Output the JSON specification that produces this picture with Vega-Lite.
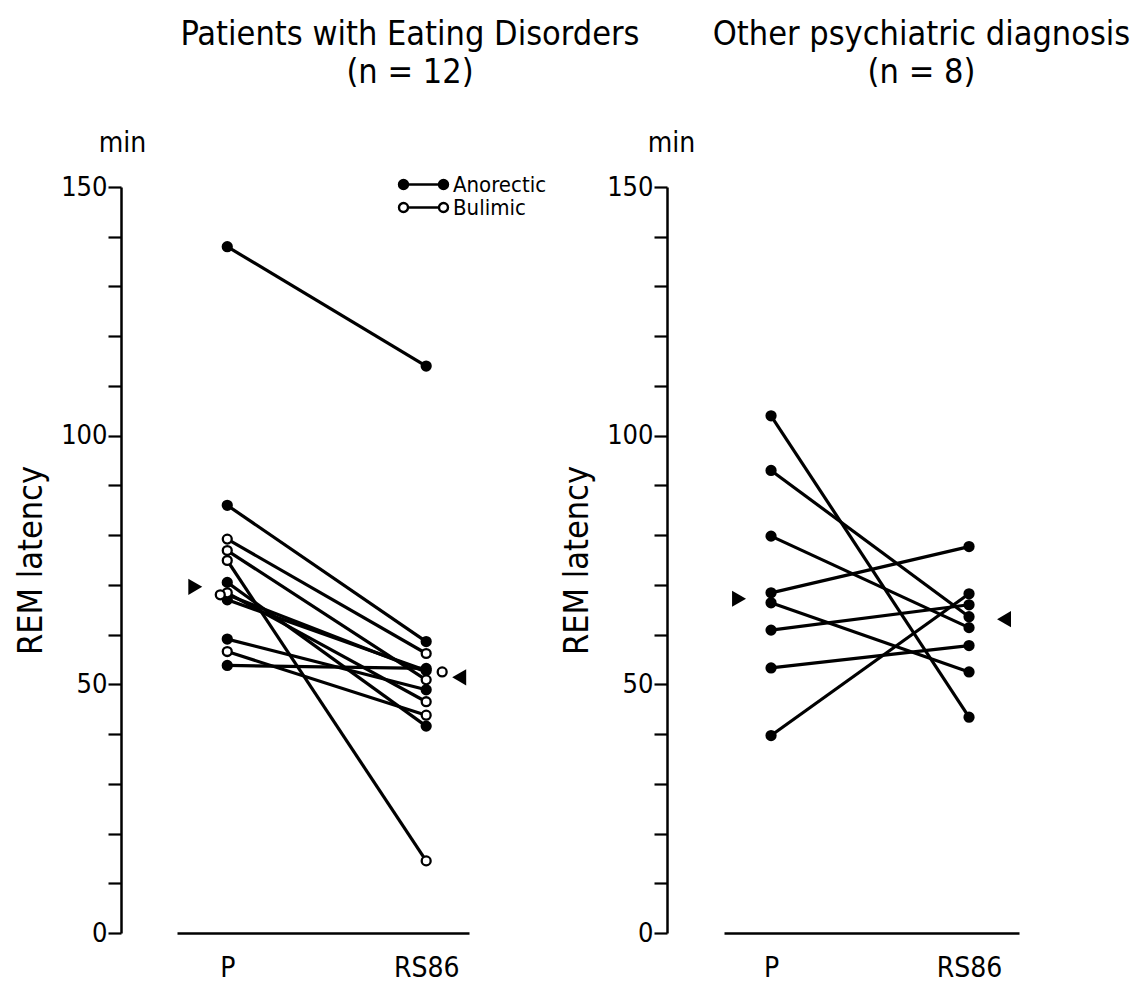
{
  "$schema": "https://vega.github.io/schema/vega-lite/v6.json",
  "background": "white",
  "padding": {"left": 14, "top": 18, "right": 2, "bottom": 5},
  "config": {
    "font": "DejaVu Sans Condensed",
    "view": {"stroke": null},
    "axis": {"domainColor": "black", "tickColor": "black", "labelColor": "black", "titleColor": "black", "grid": false, "labelFont": "DejaVu Sans Condensed", "titleFont": "DejaVu Sans Condensed", "titleFontWeight": "normal"},
    "title": {"font": "DejaVu Sans Condensed", "fontSize": 34, "fontWeight": "normal", "color": "black", "frame": "group", "lineHeight": 38}
  },
  "datasets": {
    "patients": [
      {"panel": "Eating", "id": "E1", "group": "Anorectic", "time": "P", "latency": 138, "overlap": false},
      {"panel": "Eating", "id": "E1", "group": "Anorectic", "time": "RS86", "latency": 114, "overlap": false},
      {"panel": "Eating", "id": "E2", "group": "Anorectic", "time": "P", "latency": 86, "overlap": false},
      {"panel": "Eating", "id": "E2", "group": "Anorectic", "time": "RS86", "latency": 58.6, "overlap": false},
      {"panel": "Eating", "id": "E3", "group": "Anorectic", "time": "P", "latency": 70.5, "overlap": false},
      {"panel": "Eating", "id": "E3", "group": "Anorectic", "time": "RS86", "latency": 41.6, "overlap": false},
      {"panel": "Eating", "id": "E4", "group": "Anorectic", "time": "P", "latency": 67, "overlap": false},
      {"panel": "Eating", "id": "E4", "group": "Anorectic", "time": "RS86", "latency": 52.8, "overlap": false},
      {"panel": "Eating", "id": "E5", "group": "Anorectic", "time": "P", "latency": 59.1, "overlap": false},
      {"panel": "Eating", "id": "E5", "group": "Anorectic", "time": "RS86", "latency": 48.9, "overlap": false},
      {"panel": "Eating", "id": "E6", "group": "Anorectic", "time": "P", "latency": 53.8, "overlap": false},
      {"panel": "Eating", "id": "E6", "group": "Anorectic", "time": "RS86", "latency": 53.2, "overlap": false},
      {"panel": "Eating", "id": "E7", "group": "Bulimic", "time": "P", "latency": 79.2, "overlap": false},
      {"panel": "Eating", "id": "E7", "group": "Bulimic", "time": "RS86", "latency": 56.2, "overlap": false},
      {"panel": "Eating", "id": "E8", "group": "Bulimic", "time": "P", "latency": 76.9, "overlap": false},
      {"panel": "Eating", "id": "E8", "group": "Bulimic", "time": "RS86", "latency": 50.9, "overlap": false},
      {"panel": "Eating", "id": "E9", "group": "Bulimic", "time": "P", "latency": 74.9, "overlap": false},
      {"panel": "Eating", "id": "E9", "group": "Bulimic", "time": "RS86", "latency": 14.5, "overlap": false},
      {"panel": "Eating", "id": "E10", "group": "Bulimic", "time": "P", "latency": 68.4, "overlap": false},
      {"panel": "Eating", "id": "E10", "group": "Bulimic", "time": "RS86", "latency": 46.5, "overlap": false},
      {"panel": "Eating", "id": "E11", "group": "Bulimic", "time": "P", "latency": 68.0, "overlap": true},
      {"panel": "Eating", "id": "E11", "group": "Bulimic", "time": "RS86", "latency": 52.5, "overlap": true},
      {"panel": "Eating", "id": "E12", "group": "Bulimic", "time": "P", "latency": 56.6, "overlap": false},
      {"panel": "Eating", "id": "E12", "group": "Bulimic", "time": "RS86", "latency": 43.8, "overlap": false},
      {"panel": "Other", "id": "O1", "group": "Other", "time": "P", "latency": 104, "overlap": false},
      {"panel": "Other", "id": "O1", "group": "Other", "time": "RS86", "latency": 43.4, "overlap": false},
      {"panel": "Other", "id": "O2", "group": "Other", "time": "P", "latency": 93, "overlap": false},
      {"panel": "Other", "id": "O2", "group": "Other", "time": "RS86", "latency": 63.6, "overlap": false},
      {"panel": "Other", "id": "O3", "group": "Other", "time": "P", "latency": 79.8, "overlap": false},
      {"panel": "Other", "id": "O3", "group": "Other", "time": "RS86", "latency": 61.4, "overlap": false},
      {"panel": "Other", "id": "O4", "group": "Other", "time": "P", "latency": 68.4, "overlap": false},
      {"panel": "Other", "id": "O4", "group": "Other", "time": "RS86", "latency": 77.7, "overlap": false},
      {"panel": "Other", "id": "O5", "group": "Other", "time": "P", "latency": 66.4, "overlap": false},
      {"panel": "Other", "id": "O5", "group": "Other", "time": "RS86", "latency": 52.5, "overlap": false},
      {"panel": "Other", "id": "O6", "group": "Other", "time": "P", "latency": 60.9, "overlap": false},
      {"panel": "Other", "id": "O6", "group": "Other", "time": "RS86", "latency": 66.0, "overlap": false},
      {"panel": "Other", "id": "O7", "group": "Other", "time": "P", "latency": 53.3, "overlap": false},
      {"panel": "Other", "id": "O7", "group": "Other", "time": "RS86", "latency": 57.8, "overlap": false},
      {"panel": "Other", "id": "O8", "group": "Other", "time": "P", "latency": 39.7, "overlap": false},
      {"panel": "Other", "id": "O8", "group": "Other", "time": "RS86", "latency": 68.2, "overlap": false}
    ],
    "medians": [
      {"panel": "Eating", "time": "P", "latency": 69.6},
      {"panel": "Eating", "time": "RS86", "latency": 51.4},
      {"panel": "Other", "time": "P", "latency": 67.2},
      {"panel": "Other", "time": "RS86", "latency": 63.1}
    ]
  },
  "bounds": "flush",
  "spacing": 255,
  "resolve": {"scale": {"fill": "independent"}, "legend": {"fill": "independent"}},
  "hconcat": [
    {
      "width": 292,
      "height": 746,
      "title": {"text": ["Patients with Eating Disorders", "(n = 12)"], "dx": 87, "offset": 39},
      "resolve": {"scale": {"y": "independent"}, "axis": {"y": "independent"}},
      "layer": [
        {
          "data": {"name": "patients"},
          "transform": [{"filter": "datum.panel === 'Eating'"}],
          "mark": {"type": "line", "color": "black", "strokeWidth": 3.2},
          "encoding": {
            "x": {"field": "time", "type": "nominal", "scale": {"type": "point", "domain": ["P", "RS86"], "padding": 0.234, "align": 0.54},
              "axis": {"title": null, "ticks": false, "domainWidth": 2.5, "labelFontSize": 28, "labelPadding": 21, "labelAngle": 0}},
            "y": {"field": "latency", "type": "quantitative", "scale": {"domain": [0, 150]},
              "axis": {"title": "REM latency", "orient": "left", "offset": 56, "values": [0, 10, 20, 30, 40, 50, 60, 70, 80, 90, 100, 110, 120, 130, 140, 150], "labelExpr": "datum.value % 50 === 0 ? datum.label : ''", "tickSize": 13, "tickWidth": 2.2, "domainWidth": 2.5, "labelFontSize": 27, "labelPadding": 1, "titleFontSize": 34, "titlePadding": 12, "labelOverlap": false, "labelFlush": false}},
            "detail": {"field": "id"}
          }
        },
        {
          "data": {"name": "patients"},
          "transform": [{"filter": "datum.panel === 'Eating' && !datum.overlap"}],
          "mark": {"type": "point", "filled": true, "size": 80, "stroke": "black", "strokeWidth": 2.3, "opacity": 1},
          "encoding": {
            "x": {"field": "time", "type": "nominal"},
            "y": {"field": "latency", "type": "quantitative", "scale": {"domain": [0, 150]}, "axis": null},
            "fill": {"field": "group", "type": "nominal", "scale": {"domain": ["Anorectic", "Bulimic"], "range": ["black", "white"]},
              "legend": {"title": null, "orient": "none", "legendX": 235, "legendY": -14, "direction": "vertical", "padding": 0,
                "symbolType": "M-2.45,0A0.45,0.45 0 1,1 -1.55,0A0.45,0.45 0 1,1 -2.45,0M-1.55,0L1.55,0M1.55,0A0.45,0.45 0 1,1 2.45,0A0.45,0.45 0 1,1 1.55,0",
                "symbolSize": 400, "symbolStrokeColor": "black", "symbolStrokeWidth": 2.4, "labelFontSize": 22, "labelFont": "DejaVu Sans Condensed", "labelColor": "black", "labelOffset": 18, "rowPadding": 0}}
          }
        },
        {
          "data": {"name": "patients"},
          "transform": [{"filter": "datum.panel === 'Eating' && datum.overlap && datum.time === 'P'"}],
          "mark": {"type": "point", "filled": true, "size": 80, "stroke": "black", "strokeWidth": 2.3, "opacity": 1, "xOffset": -7},
          "encoding": {
            "x": {"field": "time", "type": "nominal"},
            "y": {"field": "latency", "type": "quantitative", "scale": {"domain": [0, 150]}, "axis": null},
            "fill": {"field": "group", "type": "nominal"}
          }
        },
        {
          "data": {"name": "patients"},
          "transform": [{"filter": "datum.panel === 'Eating' && datum.overlap && datum.time === 'RS86'"}],
          "mark": {"type": "point", "filled": true, "size": 80, "stroke": "black", "strokeWidth": 2.3, "opacity": 1, "xOffset": 16},
          "encoding": {
            "x": {"field": "time", "type": "nominal"},
            "y": {"field": "latency", "type": "quantitative", "scale": {"domain": [0, 150]}, "axis": null},
            "fill": {"field": "group", "type": "nominal"}
          }
        },
        {
          "data": {"name": "medians"},
          "transform": [{"filter": "datum.panel === 'Eating' && datum.time === 'P'"}],
          "mark": {"type": "point", "shape": "triangle-right", "filled": true, "color": "black", "size": 260, "opacity": 1, "xOffset": -32},
          "encoding": {
            "x": {"field": "time", "type": "nominal"},
            "y": {"field": "latency", "type": "quantitative", "scale": {"domain": [0, 150]},
              "axis": {"orient": "left", "offset": 56, "domain": false, "ticks": false, "labels": false, "grid": false, "title": "min", "titleAngle": 0, "titleX": 1, "titleY": -44, "titleAlign": "center", "titleBaseline": "middle", "titleFontSize": 28}}
          }
        },
        {
          "data": {"name": "medians"},
          "transform": [{"filter": "datum.panel === 'Eating' && datum.time === 'RS86'"}],
          "mark": {"type": "point", "shape": "triangle-left", "filled": true, "color": "black", "size": 260, "opacity": 1, "xOffset": 33},
          "encoding": {
            "x": {"field": "time", "type": "nominal"},
            "y": {"field": "latency", "type": "quantitative", "scale": {"domain": [0, 150]}, "axis": null}
          }
        }
      ]
    },
    {
      "width": 295,
      "height": 746,
      "title": {"text": ["Other psychiatric diagnosis", "(n = 8)"], "dx": 50, "offset": 39},
      "resolve": {"scale": {"y": "independent"}, "axis": {"y": "independent"}},
      "layer": [
        {
          "data": {"name": "patients"},
          "transform": [{"filter": "datum.panel === 'Other'"}],
          "mark": {"type": "line", "color": "black", "strokeWidth": 3.2},
          "encoding": {
            "x": {"field": "time", "type": "nominal", "scale": {"type": "point", "domain": ["P", "RS86"], "padding": 0.245, "align": 0.485},
              "axis": {"title": null, "ticks": false, "domainWidth": 2.5, "labelFontSize": 28, "labelPadding": 21, "labelAngle": 0}},
            "y": {"field": "latency", "type": "quantitative", "scale": {"domain": [0, 150]},
              "axis": {"title": "REM latency", "orient": "left", "offset": 57, "values": [0, 10, 20, 30, 40, 50, 60, 70, 80, 90, 100, 110, 120, 130, 140, 150], "labelExpr": "datum.value % 50 === 0 ? datum.label : ''", "tickSize": 13, "tickWidth": 2.2, "domainWidth": 2.5, "labelFontSize": 27, "labelPadding": 1, "titleFontSize": 34, "titlePadding": 12, "labelOverlap": false, "labelFlush": false}},
            "detail": {"field": "id"}
          }
        },
        {
          "data": {"name": "patients"},
          "transform": [{"filter": "datum.panel === 'Other'"}],
          "mark": {"type": "point", "filled": true, "size": 80, "stroke": "black", "fill": "black", "strokeWidth": 2.3, "opacity": 1},
          "encoding": {
            "x": {"field": "time", "type": "nominal"},
            "y": {"field": "latency", "type": "quantitative", "scale": {"domain": [0, 150]}, "axis": null}
          }
        },
        {
          "data": {"name": "medians"},
          "transform": [{"filter": "datum.panel === 'Other' && datum.time === 'P'"}],
          "mark": {"type": "point", "shape": "triangle-right", "filled": true, "color": "black", "size": 260, "opacity": 1, "xOffset": -32},
          "encoding": {
            "x": {"field": "time", "type": "nominal"},
            "y": {"field": "latency", "type": "quantitative", "scale": {"domain": [0, 150]},
              "axis": {"orient": "left", "offset": 57, "domain": false, "ticks": false, "labels": false, "grid": false, "title": "min", "titleAngle": 0, "titleX": 4, "titleY": -44, "titleAlign": "center", "titleBaseline": "middle", "titleFontSize": 28}}
          }
        },
        {
          "data": {"name": "medians"},
          "transform": [{"filter": "datum.panel === 'Other' && datum.time === 'RS86'"}],
          "mark": {"type": "point", "shape": "triangle-left", "filled": true, "color": "black", "size": 260, "opacity": 1, "xOffset": 35},
          "encoding": {
            "x": {"field": "time", "type": "nominal"},
            "y": {"field": "latency", "type": "quantitative", "scale": {"domain": [0, 150]}, "axis": null}
          }
        }
      ]
    }
  ]
}
